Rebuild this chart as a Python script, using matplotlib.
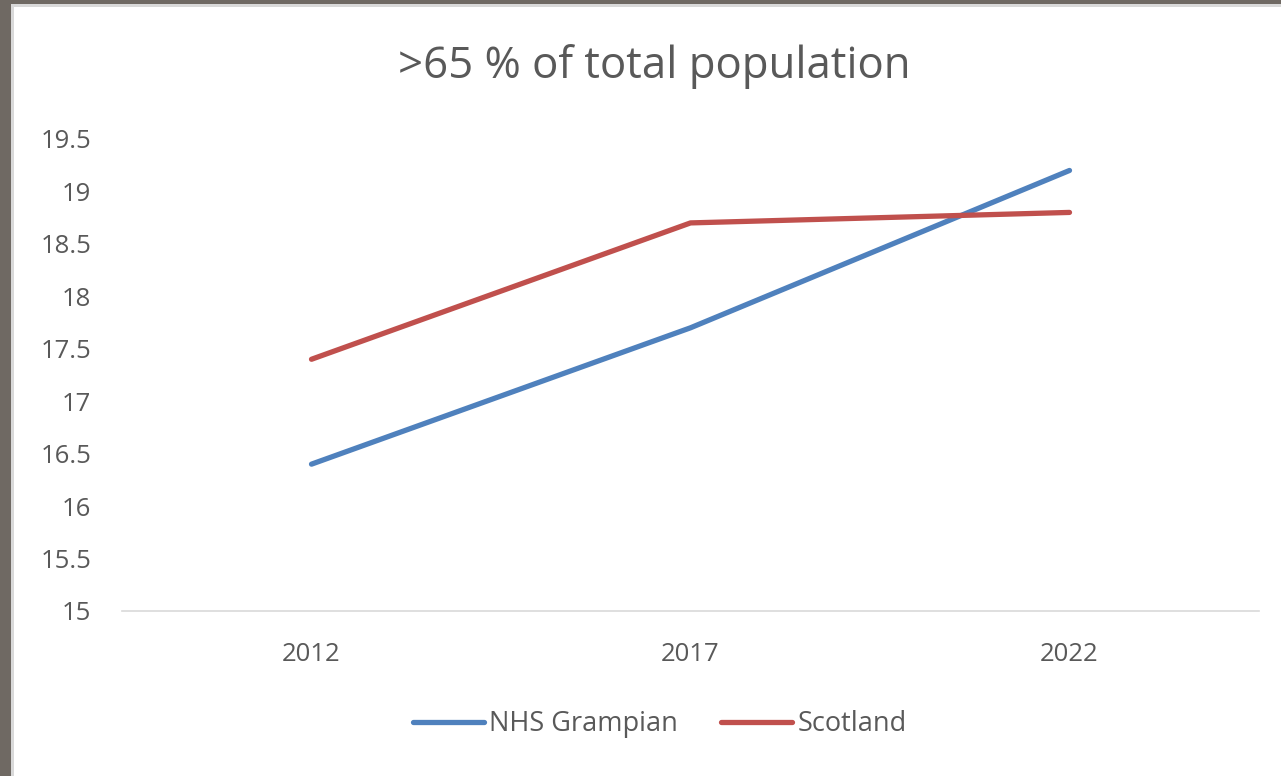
import matplotlib
matplotlib.use("Agg")
import matplotlib.pyplot as plt
import matplotlib.patches as mpatches
from matplotlib.ticker import FuncFormatter

# ── data ─────────────────────────────────────────────────────────────────────
years = ["2012", "2017", "2022"]
nhs_grampian = [16.4, 17.7, 19.2]
scotland = [17.4, 18.7, 18.8]
y_ticks = [15, 15.5, 16, 16.5, 17, 17.5, 18, 18.5, 19, 19.5]

BLUE = "#4F81BD"
RED = "#C0504D"
TEXT = "#595959"

plt.rcParams["font.family"] = ["Open Sans", "DejaVu Sans"]

W, H = 1281, 776
fig = plt.figure(figsize=(W / 100, H / 100), dpi=100, facecolor="#6f6963")

# white chart area (screenshot shows a photo edge left and top)
fig.patches.append(mpatches.Rectangle(
    (11 / W, 0), 1 - 11 / W, 1 - 4 / H, transform=fig.transFigure,
    facecolor="#d9d9d9", edgecolor="none", zorder=-2))
fig.patches.append(mpatches.Rectangle(
    (14 / W, 0), 1 - 14 / W, 1 - 7 / H, transform=fig.transFigure,
    facecolor="white", edgecolor="none", zorder=-1))

ax = fig.add_axes([122 / W, 1 - 611 / H, (1259 - 122) / W, (611 - 139) / H])
ax.set_facecolor("none")
ax.set_zorder(2)

x = range(len(years))
ax.plot(x, nhs_grampian, color=BLUE, linewidth=3.8, solid_capstyle="round",
        label="NHS Grampian", zorder=3)
ax.plot(x, scotland, color=RED, linewidth=3.8, solid_capstyle="round",
        label="Scotland", zorder=3)

ax.set_xlim(-0.5, len(years) - 0.5)
ax.set_ylim(15, 19.5)
ax.set_xticks(list(x))
ax.set_xticklabels(years)
ax.set_yticks(y_ticks)
ax.yaxis.set_major_formatter(FuncFormatter(lambda v, p: f"{v:g}"))

for s in ["top", "right", "left"]:
    ax.spines[s].set_visible(False)
ax.spines["bottom"].set_color("#d9d9d9")
ax.spines["bottom"].set_linewidth(1.2)
ax.tick_params(axis="both", length=0, labelsize=18.5, labelcolor=TEXT)
ax.tick_params(axis="y", pad=22)
ax.tick_params(axis="x", pad=22)

fig.text(654 / W, 1 - 67 / H, ">65 % of total population", ha="center",
         va="center", fontsize=31.5, color=TEXT, zorder=3)

leg = fig.legend(loc="center", bbox_to_anchor=(660 / W, 1 - 724 / H), ncol=2,
                 frameon=False, fontsize=19.5, labelcolor=TEXT,
                 handlelength=2.6, handletextpad=0.2, columnspacing=1.6)
leg.set_zorder(3)

fig.savefig("out.png", dpi=100, facecolor=fig.get_facecolor())
